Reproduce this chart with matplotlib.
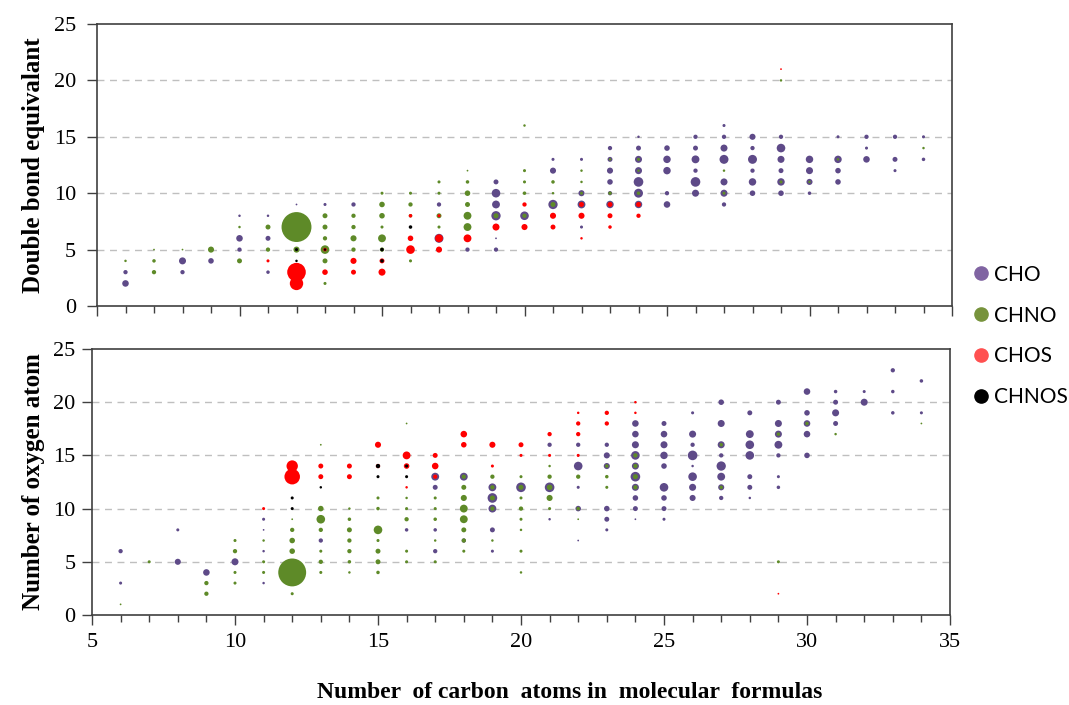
import matplotlib
matplotlib.use("Agg")
import matplotlib.pyplot as plt
from matplotlib.lines import Line2D
from matplotlib.ticker import MultipleLocator

# (carbon number, value, relative abundance) for each compound class
# top panel: double bond equivalent
cho_dbe = [(6,3,0.3),(6,2,0.7),(8,4,0.8),(8,3,0.3),(9,4,0.5),
           (10,8,0.1),(10,6,0.7),(10,5,0.3),(11,8,0.1),(11,6,0.4),(11,3,0.2),
           (12,9,0.05),(13,9,0.15),(14,9,0.3),(17,9,0.3),(17,6,1.3),(18,5,0.3),
           (19,11,0.4),(19,10,1.2),(19,9,1.0),(19,8,1.4),(19,6,0.05),(19,5,0.3),
           (20,8,1.2),(21,13,0.15),(21,12,0.6),(21,9,1.4),
           (22,13,0.15),(22,10,0.6),(22,9,1.0),(22,7,0.15),
           (23,14,0.3),(23,13,0.4),(23,12,0.6),(23,11,0.5),(23,10,0.3),(23,9,0.9),
           (24,15,0.1),(24,14,0.4),(24,13,0.8),(24,12,0.8),(24,11,1.5),(24,10,1.3),(24,9,0.9),
           (25,14,0.5),(25,13,0.9),(25,12,0.9),(25,10,0.3),(25,9,0.7),
           (26,15,0.3),(26,14,0.4),(26,13,1.0),(26,12,0.3),(26,11,1.5),(26,10,0.8),
           (27,16,0.15),(27,15,0.3),(27,14,0.8),(27,13,1.3),(27,11,0.8),(27,10,0.8),(27,9,0.3),
           (28,15,0.6),(28,14,0.3),(28,13,1.3),(28,12,0.3),(28,11,0.9),(28,10,0.5),
           (29,15,0.3),(29,14,1.2),(29,13,0.8),(29,12,0.4),(29,11,0.9),(29,10,0.5),
           (30,13,0.9),(30,12,0.8),(30,11,0.6),(30,10,0.2),
           (31,15,0.15),(31,13,0.9),(31,12,0.5),(31,11,0.5),
           (32,15,0.3),(32,14,0.15),(32,13,0.7),
           (33,15,0.3),(33,13,0.4),(33,12,0.15),(34,15,0.15),(34,13,0.2)]
chno_dbe = [(6,4,0.1),(7,5,0.05),(7,4,0.2),(7,3,0.3),(8,5,0.05),(9,5,0.6),
            (10,7,0.1),(10,4,0.4),(11,7,0.4),(11,5,0.3),(12,7,14.5),(12,5,0.6),
            (13,8,0.4),(13,7,0.4),(13,6,0.3),(13,5,1.2),(13,4,0.4),(13,2,0.15),
            (14,8,0.3),(14,7,0.3),(14,6,0.6),(14,5,0.3),
            (15,10,0.15),(15,9,0.5),(15,8,0.5),(15,7,0.15),(15,6,1.0),(15,5,0.3),
            (16,10,0.15),(16,9,0.3),(16,8,0.2),(16,4,0.15),
            (17,11,0.15),(17,10,0.15),(17,8,0.4),(17,7,0.15),
            (18,12,0.05),(18,11,0.2),(18,10,0.5),(18,9,0.4),(18,8,1.0),(18,7,1.0),
            (19,8,0.4),(20,16,0.1),(20,12,0.15),(20,11,0.15),(20,10,0.2),(20,8,0.3),
            (21,11,0.2),(21,10,0.1),(21,9,0.4),(22,12,0.1),(22,11,0.1),(22,10,0.15),
            (23,13,0.1),(23,10,0.2),(24,13,0.15),(24,12,0.1),(24,10,0.2),
            (27,12,0.1),(27,10,0.15),(29,20,0.1),(29,11,0.15),(30,11,0.1),(31,13,0.1),(34,14,0.1)]
chos_dbe = [(11,4,0.15),(12,3,5.6),(12,2,2.9),(13,5,0.2),(13,3,0.5),
            (14,4,0.6),(14,3,0.4),(15,4,0.4),(15,3,0.8),
            (16,8,0.2),(16,6,0.5),(16,5,1.2),(17,8,0.15),(17,6,1.0),(17,5,0.6),
            (18,6,1.0),(19,7,0.8),(20,9,0.3),(20,7,0.6),(21,8,0.6),(21,7,0.4),
            (22,9,0.4),(22,8,0.6),(22,6,0.1),(23,9,0.4),(23,8,0.4),(23,7,0.2),
            (24,9,0.4),(24,8,0.3),(29,21,0.05)]
chnos_dbe = [(12,5,0.15),(12,4,0.1),(13,5,0.1),(15,5,0.2),(15,4,0.2),(16,7,0.2)]

# bottom panel: number of oxygen atoms
cho_o = [(6,6,0.3),(6,3,0.15),(8,8,0.15),(8,5,0.6),(9,4,0.7),(10,5,0.8),
         (11,9,0.15),(11,8,0.05),(11,6,0.1),(11,3,0.1),(13,7,0.3),(16,8,0.2),
         (17,13,1.0),(17,12,0.4),(17,8,0.2),(17,6,0.3),(18,13,1.0),(18,7,0.3),
         (19,12,1.0),(19,11,1.5),(19,10,1.0),(19,8,0.4),(19,6,0.15),(20,12,1.5),
         (21,16,0.3),(21,12,1.5),(21,9,0.1),
         (22,16,0.3),(22,15,0.1),(22,14,1.2),(22,12,0.15),(22,10,0.5),(22,7,0.05),
         (23,16,0.3),(23,15,0.6),(23,14,0.6),(23,10,0.5),(23,9,0.4),(23,8,0.15),
         (24,18,0.7),(24,17,0.7),(24,16,0.8),(24,15,1.2),(24,14,0.8),(24,13,1.5),
         (24,12,0.8),(24,11,0.5),(24,10,0.4),(24,9,0.05),
         (25,18,0.4),(25,17,0.7),(25,16,0.8),(25,15,0.9),(25,14,0.5),(25,12,1.2),
         (25,11,0.5),(25,10,0.4),(25,9,0.15),
         (26,19,0.15),(26,17,0.8),(26,16,0.3),(26,15,1.5),(26,14,0.1),(26,13,1.2),(26,12,0.8),(26,11,0.6),
         (27,20,0.5),(27,18,0.8),(27,16,0.8),(27,15,0.3),(27,14,1.4),(27,13,1.0),(27,12,0.6),(27,11,0.3),
         (28,19,0.4),(28,17,1.0),(28,16,1.2),(28,15,1.2),(28,13,0.4),(28,12,0.4),(28,11,0.1),
         (29,20,0.4),(29,18,0.8),(29,17,0.8),(29,16,1.0),(29,15,0.3),(29,13,0.15),(29,12,0.2),
         (30,21,0.7),(30,19,0.5),(30,18,0.7),(30,17,0.7),(30,15,0.5),
         (31,21,0.2),(31,20,0.4),(31,19,0.8),(31,18,0.4),(32,21,0.15),(32,20,0.8),
         (33,23,0.3),(33,21,0.2),(33,19,0.2),(34,22,0.2),(34,19,0.15)]
chno_o = [(6,1,0.05),(7,5,0.15),(9,3,0.3),(9,2,0.3),
          (10,7,0.15),(10,6,0.3),(10,4,0.15),(10,3,0.15),(11,7,0.1),(11,5,0.15),(11,4,0.15),
          (12,9,0.05),(12,8,0.3),(12,7,0.5),(12,6,0.5),(12,4,12.6),(12,2,0.15),
          (13,16,0.05),(13,10,0.5),(13,9,1.2),(13,8,0.3),(13,6,0.15),(13,5,0.3),(13,4,0.15),
          (14,10,0.1),(14,9,0.2),(14,8,0.4),(14,7,0.3),(14,6,0.3),(14,5,0.2),(14,4,0.1),
          (15,11,0.15),(15,10,0.2),(15,8,1.2),(15,7,0.15),(15,6,0.4),(15,5,0.4),(15,4,0.2),
          (16,18,0.05),(16,11,0.1),(16,10,0.15),(16,9,0.3),(16,6,0.15),(16,5,0.15),
          (17,11,0.15),(17,10,0.15),(17,9,0.2),(17,7,0.1),(17,5,0.15),
          (18,13,0.3),(18,12,0.4),(18,11,0.6),(18,10,1.0),(18,9,1.0),(18,8,0.4),(18,7,0.3),(18,6,0.15),
          (19,13,0.3),(19,12,0.3),(19,11,0.4),(19,10,0.3),(19,7,0.1),
          (20,13,0.15),(20,12,0.4),(20,11,0.15),(20,10,0.3),(20,9,0.15),(20,8,0.1),(20,6,0.15),(20,4,0.1),
          (21,14,0.1),(21,13,0.3),(21,12,0.5),(21,11,0.6),(21,10,0.15),
          (22,13,0.3),(22,10,0.2),(22,9,0.05),(23,14,0.2),(23,13,0.2),(23,12,0.15),
          (24,15,0.3),(24,14,0.3),(24,13,0.4),(24,12,0.3),
          (27,16,0.2),(27,12,0.2),(29,17,0.2),(29,5,0.15),(30,18,0.2),(31,17,0.1),(34,18,0.05)]
chos_o = [(11,10,0.15),(12,14,2.1),(12,13,3.9),(13,14,0.4),(13,13,0.4),
          (14,14,0.4),(14,13,0.4),(15,16,0.6),(15,14,0.3),
          (16,15,1.0),(16,14,0.5),(16,12,0.1),(17,15,0.4),(17,14,0.7),(17,13,0.3),
          (18,17,0.7),(18,16,0.5),(19,16,0.6),(19,14,0.15),(20,16,0.4),(20,15,0.15),
          (21,17,0.3),(21,15,0.15),(22,19,0.1),(22,18,0.3),(22,17,0.3),(22,15,0.15),
          (23,19,0.3),(23,18,0.3),(24,20,0.1),(24,19,0.1),(29,2,0.05)]
chnos_o = [(12,11,0.15),(12,10,0.15),(13,12,0.1),(15,14,0.3),(15,13,0.15),(16,14,0.15),(16,13,0.15)]

classes = ["CHO", "CHNO", "CHOS", "CHNOS"]
point_colors = ["#5E4A88", "#5E8A28", "#FF0000", "#000000"]
legend_colors = ["#8064A2", "#77933C", "#FF5050", "#000000"]

fig = plt.figure(figsize=(10.69, 7.05), dpi=100)
ax1 = fig.add_axes([97/1069, 1-306/705, 855/1069, 282/705])
ax2 = fig.add_axes([92/1069, 1-615/705, 858/1069, 266/705])

serif = "Liberation Serif"

def draw(ax, groups, pad):
    for data, col in zip(groups, point_colors):
        c, v, a = zip(*data)
        ax.scatter(c, v, s=[32*x for x in a], color=col, linewidths=0, zorder=3)
    ax.set_xlim(5, 35)
    ax.set_ylim(0, 25)
    ax.xaxis.set_major_locator(MultipleLocator(5))
    ax.xaxis.set_minor_locator(MultipleLocator(1))
    ax.yaxis.set_major_locator(MultipleLocator(5))
    for y in [5, 10, 15, 20]:
        ax.axhline(y, color="#BFBFBF", lw=1, ls=(0, (5, 4)), zorder=1)
    for s in ax.spines.values():
        s.set_color("#404040")
        s.set_linewidth(1.2)
    ax.tick_params(axis="x", which="major", direction="out", length=7, width=1, color="#404040", pad=6)
    ax.tick_params(axis="x", which="minor", direction="out", length=5, width=1, color="#404040")
    ax.tick_params(axis="y", direction="out", length=7, width=1, color="#404040", pad=pad)
    for lab in ax.get_xticklabels() + ax.get_yticklabels():
        lab.set_fontfamily(serif)
        lab.set_fontsize(16)

draw(ax1, [cho_dbe, chno_dbe, chos_dbe, chnos_dbe], 8)
draw(ax2, [cho_o, chno_o, chos_o, chnos_o], 5)
ax1.tick_params(axis="x", labelbottom=False)

ax1.set_ylabel("Double bond equivalant", fontfamily=serif, fontweight="bold", fontsize=18)
ax2.set_ylabel("Number of oxygen atom", fontfamily=serif, fontweight="bold", fontsize=18)
ax1.yaxis.set_label_coords(-0.061, 0.5)
ax2.yaxis.set_label_coords(-0.055, 0.5)
fig.text(570/1069, 1-692/705, "Number  of carbon  atoms in  molecular  formulas",
         fontfamily=serif, fontweight="bold", fontsize=17, ha="center", va="center")

handles = [Line2D([], [], marker="o", ls="none", color=c, markersize=9.5) for c in legend_colors]
fig.legend(handles, classes, loc="center left", bbox_to_anchor=(962/1069, 1-336/705),
           frameon=False, prop={"family": "Lato", "size": 15}, handletextpad=0.15,
           labelspacing=1.0, handlelength=1.0, borderaxespad=0)

fig.savefig("out.png", dpi=100)
